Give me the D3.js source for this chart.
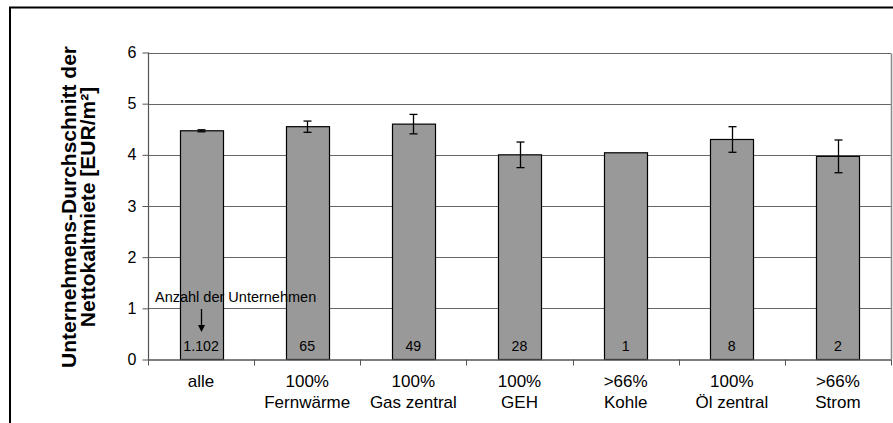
<!DOCTYPE html>
<html><head><meta charset="utf-8">
<script src="https://cdn.jsdelivr.net/npm/d3@7"></script>
<style>body{margin:0;background:#fff}svg{display:block}text{font-family:"Liberation Sans",Arial,sans-serif}</style>
</head><body>
<script>
const categories = [["alle"],["100%","Fernwärme"],["100%","Gas zentral"],["100%","GEH"],[">66%","Kohle"],["100%","Öl zentral"],[">66%","Strom"]];
const values = [4.47, 4.55, 4.60, 4.00, 4.04, 4.30, 3.97];
const errors = [0.02, 0.11, 0.19, 0.25, 0, 0.25, 0.32];
const counts = ["1.102","65","49","28","1","8","2"];
const yTicks = [0,1,2,3,4,5,6];
const yTitle = ["Unternehmens-Durchschnitt der","Nettokaltmiete [EUR/m²]"];
const annotation = "Anzahl der Unternehmen";

const W = 893, H = 423;
const svg = d3.select("body").append("svg").attr("width", W).attr("height", H);
const L = 148, R = 891, T = 52.5, B = 359.5;
const idx = categories.map((d,i)=>i);
const x = d3.scaleBand().domain(idx).range([L, R]).paddingInner(0.594).paddingOuter(0.297);
const y = d3.scaleLinear().domain([0,6]).range([B, T]);
const step = x.step();

// outer frame
svg.append("rect").attr("x",10).attr("y",7.5).attr("width",W+20).attr("height",H+20)
  .attr("fill","none").attr("stroke","#000").attr("stroke-width",2);

// gridlines
svg.append("g").selectAll("line").data(yTicks.filter(d=>d>0)).join("line")
  .attr("x1",L).attr("x2",R).attr("y1",d=>Math.round(y(d))+0.5).attr("y2",d=>Math.round(y(d))+0.5)
  .attr("stroke","#666").attr("stroke-width",1.2);
// right border of plot area
svg.append("line").attr("x1",R+0.5).attr("x2",R+0.5).attr("y1",Math.round(y(6))+0.5).attr("y2",B)
  .attr("stroke","#888").attr("stroke-width",1.5);

// bars
svg.append("g").selectAll("rect").data(values).join("rect")
  .attr("x",(d,i)=>Math.round(x(i))+0.5).attr("width",Math.round(x.bandwidth()))
  .attr("y",d=>y(d)).attr("height",d=>B-y(d))
  .attr("fill","#999999").attr("stroke","#000").attr("stroke-width",1.2);

// error bars
const eg = svg.append("g").attr("stroke","#000").attr("stroke-width",1.3);
values.forEach((v,i)=>{
  if(!errors[i]) return;
  const cx = Math.round(x(i)+x.bandwidth()/2)+0.5;
  eg.append("line").attr("x1",cx).attr("x2",cx).attr("y1",y(v+errors[i])).attr("y2",y(v-errors[i]));
  eg.append("line").attr("x1",cx-4).attr("x2",cx+4).attr("y1",y(v+errors[i])).attr("y2",y(v+errors[i]));
  eg.append("line").attr("x1",cx-4).attr("x2",cx+4).attr("y1",y(v-errors[i])).attr("y2",y(v-errors[i]));
});

// y axis
const yAxis = svg.append("g").attr("transform",`translate(${L+0.5},0)`)
  .call(d3.axisLeft(y).tickValues(yTicks).tickSize(6).tickPadding(6).tickFormat(d3.format("d")));
yAxis.select(".domain").attr("stroke","#555").attr("stroke-width",1.2).attr("d",`M-0,${T}V${B+0.5}`);
yAxis.selectAll(".tick line").attr("stroke","#555");
yAxis.selectAll("text").attr("font-size",16).attr("fill","#000").attr("font-family","Liberation Sans, Arial, sans-serif");

// x axis line and boundary ticks
svg.append("line").attr("x1",L).attr("x2",R).attr("y1",B+0.5).attr("y2",B+0.5).attr("stroke","#555").attr("stroke-width",1.3);
const bounds = d3.range(categories.length+1).map(i=>L + i*step);
svg.append("g").selectAll("line").data(bounds).join("line")
  .attr("x1",d=>Math.round(d)+0.5).attr("x2",d=>Math.round(d)+0.5).attr("y1",B).attr("y2",B+6)
  .attr("stroke","#555");

// x labels
const xl = svg.append("g").attr("font-size",17).attr("text-anchor","middle").attr("fill","#000");
categories.forEach((lines,i)=>{
  const cx = x(i)+x.bandwidth()/2;
  lines.forEach((t,j)=>{
    xl.append("text").attr("x",cx).attr("y",386.5+j*21.5).text(t);
  });
});

// counts
svg.append("g").attr("font-size",14.2).attr("text-anchor","middle").selectAll("text").data(counts).join("text")
  .attr("x",(d,i)=>x(i)+x.bandwidth()/2).attr("y",350.5).text(d=>d);

// annotation
svg.append("text").attr("x",155).attr("y",301.5).attr("font-size",14.5).text(annotation);
const ax = Math.round(x(0)+x.bandwidth()/2)+0.5;
svg.append("line").attr("x1",ax).attr("x2",ax).attr("y1",309).attr("y2",326).attr("stroke","#000").attr("stroke-width",1.3);
svg.append("path").attr("d",`M${ax-3.5},${325}L${ax+3.5},${325}L${ax},${332}Z`).attr("fill","#000");

// y title
const yt = svg.append("text").attr("transform",`translate(0,${(T+B)/2+1}) rotate(-90)`)
  .attr("text-anchor","middle").attr("font-size",21).attr("font-weight","bold");
yTitle.forEach((t,j)=>{
  yt.append("tspan").attr("x",0).attr("y",76+j*18.5).text(t);
});
</script>
</body></html>
